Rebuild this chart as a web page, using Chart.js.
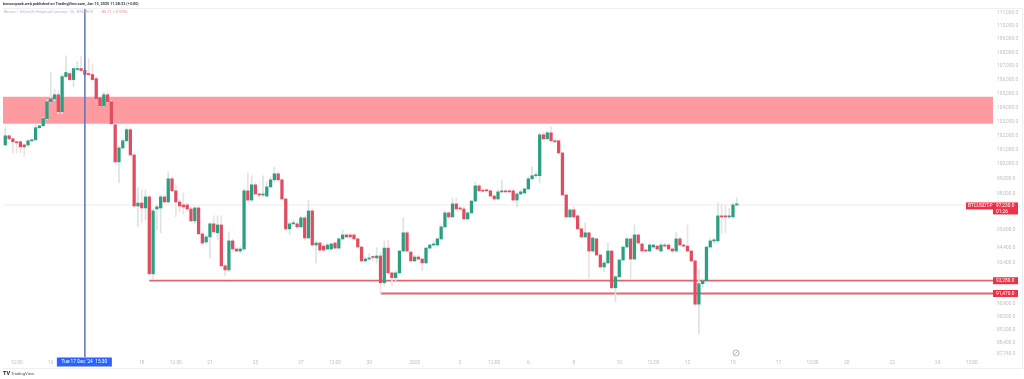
<!DOCTYPE html>
<html>
<head>
<meta charset="utf-8">
<style>
  html, body { margin: 0; padding: 0; background: #fff; }
  canvas { display: block; }
</style>
<script src="https://cdn.jsdelivr.net/npm/chart.js@4"></script>
</head>
<body>
<canvas id="chart" width="1024" height="379"></canvas>
<script>
//Candles, one value per bar
const opens = [101340,101980,101770,101560,101560,101340,101340,101630,101700,102550,102690,103190,104400,104610,104910,103690,106230,106450,106010,106750,106820,106680,106450,106380,106080,104690,104110,104910,104400,102760,100160,101130,101630,102410,100640,97160,97360,97030,97770,92720,96960,97030,97770,97430,99000,98180,97430,97230,97230,96960,96170,97030,95310,94780,95110,95970,95380,95900,93230,92970,94850,94320,94190,94320,98180,97560,98590,97970,97900,97830,98450,98930,99340,98930,97630,95640,95970,95970,95770,96370,95040,96830,94580,94710,94510,94320,94320,94710,94380,94980,95240,95240,95240,94980,94450,93550,93670,93800,93740,93870,92150,94380,92780,92470,92780,94190,95380,94120,93550,93800,93670,93420,94380,94580,94580,94980,95770,96700,96430,97300,97030,96960,96300,96700,97490,98520,98180,98250,98180,97830,97630,98110,98180,98180,98180,97560,97970,98040,98310,99000,99210,99210,102050,101770,102190,101630,101630,100780,97900,96430,96900,96500,95640,95110,95380,94190,94980,93930,93160,93420,94190,91830,92530,93610,94450,94980,93670,95240,94650,94250,94190,94450,94510,94190,94580,94580,94320,94190,94980,94580,94510,94190,93550,90800,92090,92280,94450,94850,94850,96500,96500,96430,96430,97230];
const highs = [102550,102050,101840,101630,101630,101410,101700,101770,102830,102690,103250,104540,106530,105280,105200,106400,107770,106600,106900,107340,107700,107480,107550,107120,106230,104760,105100,105050,104470,102830,101270,101770,102550,102550,100780,98380,98250,98250,97900,96960,97230,97900,97900,99480,99140,98590,97560,98040,97360,97100,97100,97160,95440,95250,96040,96500,96500,96500,93350,95440,94980,94380,94450,98310,99410,99210,98720,98040,99210,98800,99140,99820,99480,99000,97700,96100,96240,96100,96500,96500,97560,96960,94850,94780,94650,94710,94710,94780,95100,95570,95310,95310,95310,95040,94510,93800,94000,93900,94400,94120,94850,94910,92850,92910,94250,96370,95500,94190,93930,93930,93740,94450,94650,94850,95040,95900,96830,96770,97700,97700,97100,97100,96770,97560,98790,98590,98250,98320,98250,97900,98250,98930,98300,98300,98320,98040,98250,98380,99140,99820,99500,102190,102260,102330,102620,101770,101700,100850,97970,96970,97100,96570,95700,96040,95440,95100,95040,94000,93550,94710,94250,92600,93670,94450,95100,95040,95900,95310,94710,94320,94710,94650,94580,94720,94700,94650,94380,95400,95110,94650,95900,94250,93610,92970,92400,94450,95000,95050,97360,97300,97200,97000,97360,97700];
const lows = [101280,101700,100780,100780,100780,100570,101200,101560,101630,102480,102620,103120,104330,104470,103550,103550,106160,105900,105500,106680,106600,106300,106300,105950,104540,104050,104050,104330,102760,100090,98720,101060,101560,100570,97090,95770,96040,96240,92650,92410,95570,95380,97360,97360,98110,96430,96770,96630,96770,96110,95970,95240,94580,94650,93740,95300,94910,93160,92590,92850,94120,94120,94050,94190,97490,97430,97900,97700,97760,97760,98380,98790,98860,97560,95510,95250,95900,95640,95700,94900,94980,94510,93420,94100,94120,94250,94250,94320,94320,94910,95040,95040,94910,94380,93490,93420,93600,93550,93420,91380,91960,92720,91960,92280,92720,94120,94120,93480,93480,93610,92910,93360,94320,94510,94510,94910,95700,96300,96370,96830,96830,96240,96240,96630,97430,98110,98110,98110,97760,97560,97560,98040,98050,98050,97490,97100,97900,97970,98250,98930,99070,98720,101700,101700,101560,101490,100710,97830,96360,96370,96370,95570,95040,95040,92340,94120,93900,93100,92850,93360,91760,90930,92470,93550,94380,92340,93610,94650,94120,94120,94120,94380,94250,94120,94450,94250,94050,94120,94510,94450,94120,93490,90740,88940,91900,92150,94380,94700,94780,95300,95380,96300,96370,97160];
const closes = [101980,101770,101560,101490,101200,101200,101630,101700,102550,102690,103190,104400,104610,104910,103690,106230,106530,106010,106820,106820,106680,106380,106380,106010,104610,104110,104910,104400,102830,100160,101130,101630,102410,100640,97160,97360,97030,97770,92720,96830,97100,97770,97430,99000,98180,97430,97160,97100,96960,96170,97030,95310,94710,95110,95970,95440,95900,93230,92970,94850,94320,94190,94320,98180,97560,98590,97970,97900,97970,98450,98930,99340,98930,97630,95640,95970,96040,95770,96370,95040,96830,94580,94710,94250,94250,94580,94650,94380,94980,95240,95110,95110,94980,94450,93550,93670,93700,93770,93870,92150,94380,92780,92470,92780,94190,95380,94190,93550,93800,93670,93420,94380,94580,94650,94980,95770,96700,96430,97300,96960,96960,96300,96700,97490,98520,98180,98160,98180,97830,97630,98110,98180,98110,98110,97560,97970,98110,98310,99000,99210,99280,102050,101770,102190,101630,101560,100780,97900,96430,96900,96430,95640,95110,95380,94190,95040,93930,93160,93420,94190,91830,92530,93610,94450,94980,93670,95240,94710,94190,94190,94580,94580,94320,94580,94510,94320,94190,94980,94580,94510,94190,93550,90800,92090,92280,94450,94850,94900,96500,96430,96430,96500,97230,97300];

//Price axis ticks and the levels drawn on the chart
const priceTicks = [111000,110000,109000,108000,107000,106000,105000,104000,103000,102000,101000,100000,99000,98000,95600,94400,93400,90800,90000,89200,88400,87740];
const timeTickBars = [3,12,36,45,54,66,78,87,96,108,120,129,138,150,162,171,180,192,204,213,222,234,246,255];
const timeTickLabels = ['12:00','16','18','12:00','21','25','27','12:00','30','2025','3','12:00','6','8','10','12:00','13','15','17','12:00','20','22','24','12:00'];
const zoneTop = 104760;
const zoneBottom = 102830;
const lastPrice = 97230;
const supportHigh = 92280;
const supportLow = 91470;
const supportHighStart = 38;
const supportLowStart = 99;
const markedBar = 21;

const xMin = -0.6;
const xMax = 260.6;
const yMin = 87550;
const yMax = 111300;

const green = '#2a9f81';
const red = '#e04c60';
const tagRed = '#ee3148';
const lineRed = '#dd6670';

function getColor(i, up, down) {
    return closes[i] >= opens[i] ? up : down;
}

function level(x0, x1, price, color, width) {
    return {
        type: 'line',
        data: [{x: x0, y: price}, {x: x1, y: price}],
        borderColor: color,
        borderWidth: width,
        pointRadius: 0
    };
}

function fmt(v) {
    return v.toLocaleString('en-US', {minimumFractionDigits: 1, maximumFractionDigits: 1});
}

//Price tags, date tag, header and frame
const overlay = {
    id: 'overlay',
    afterDraw(chart) {
        const ctx = chart.ctx;
        const x = chart.scales.x;
        const y = chart.scales.y;
        const font = 'Roboto, sans-serif';
        ctx.save();

        ctx.strokeStyle = '#eeeff2';
        ctx.lineWidth = 1;
        ctx.beginPath();
        ctx.moveTo(3, 8.5);
        ctx.lineTo(1022.5, 8.5);
        ctx.lineTo(1022.5, 368.5);
        ctx.lineTo(3, 368.5);
        ctx.stroke();

        ctx.textBaseline = 'middle';
        ctx.textAlign = 'left';
        ctx.font = 'bold 3.8px ' + font;
        ctx.fillStyle = '#3a3e49';
        ctx.fillText('bensonpack.web published on TradingView.com, Jan 15, 2025 11:28:33 (+3:00)', 3, 4.5);
        ctx.font = '3.8px ' + font;
        ctx.fillStyle = '#b4b8c2';
        ctx.fillText('Bitcoin / TetherUS Perpetual Contract \u00b7 2h \u00b7 BINANCE', 4, 12.5);
        ctx.fillStyle = '#ec8f9a';
        ctx.fillText('\u221286.71 (\u22120.09%)', 100, 12.5);

        ctx.font = 'bold 5.5px ' + font;
        ctx.fillStyle = '#131722';
        ctx.fillText('TV', 3, 374);
        ctx.font = '4.2px ' + font;
        ctx.fillStyle = '#50535e';
        ctx.fillText('TradingView', 11, 374);

        const mx = x.getPixelForValue(markedBar);
        ctx.fillStyle = '#2962ff';
        ctx.fillRect(mx - 28, 357.5, 55, 9);
        ctx.fillStyle = '#fff';
        ctx.textAlign = 'center';
        ctx.font = '4.8px ' + font;
        ctx.fillText("Tue 17 Dec '24  15:30", mx - 0.5, 362);

        ctx.textAlign = 'left';
        const py = y.getPixelForValue(lastPrice);
        ctx.fillStyle = tagRed;
        ctx.fillRect(966, py - 2.5, 27, 7);
        ctx.fillRect(993, py - 2.5, 25, 12);
        ctx.fillStyle = '#fff';
        ctx.fillText('BTCUSDT.P', 968, py + 1);
        ctx.fillText(fmt(lastPrice), 996, py + 1);
        ctx.fillText('01:26', 996, py + 6.5);

        for (const p of [supportHigh, supportLow]) {
            const ly = y.getPixelForValue(p);
            ctx.fillStyle = tagRed;
            ctx.fillRect(993, ly - 3.5, 25, 7);
            ctx.fillStyle = '#fff';
            ctx.fillText(fmt(p), 996, ly + 0.3);
        }

        ctx.strokeStyle = '#9ea2ad';
        ctx.lineWidth = 0.8;
        ctx.beginPath();
        ctx.arc(736, 353, 3, 0, Math.PI * 2);
        ctx.moveTo(734.5, 354.5);
        ctx.lineTo(737.5, 351.5);
        ctx.stroke();
        ctx.restore();
    }
};

new Chart(document.querySelector('#chart'), {
    type: 'bar',
    data: {
        datasets: [
            {
                //Bodies
                data: opens.map((o, i) => ({x: i, y: [o, closes[i]]})),
                backgroundColor: opens.map((o, i) => getColor(i, green, red)),
                barThickness: 2.6,
                minBarLength: 1,
                grouped: false,
                order: 1
            },
            {
                //Wicks
                data: opens.map((o, i) => ({x: i, y: [lows[i], highs[i]]})),
                backgroundColor: opens.map((o, i) => getColor(i, '#d8e5e1', '#efe0e3')),
                barThickness: 1,
                grouped: false,
                order: 2
            },
            {...level(markedBar, markedBar, yMin, '#5a74b8', 1.5), data: [{x: markedBar, y: yMin}, {x: markedBar, y: yMax}], order: 0},
            {...level(supportHighStart, xMax, supportHigh, lineRed, 1.8), order: 3},
            {...level(supportLowStart, xMax, supportLow, lineRed, 1.8), order: 3.5},
            {...level(xMin, xMax, lastPrice, '#f0e9ea', 1), order: 4},
            {
                ...level(xMin, xMax, zoneTop, '#fe9ba1', 0),
                fill: {value: zoneBottom},
                backgroundColor: '#fe9ba1',
                order: 5
            }
        ]
    },
    options: {
        responsive: false,
        animation: false,
        layout: {padding: {left: 3, top: 9}},
        plugins: {
            legend: {display: false},
            tooltip: {enabled: false}
        },
        scales: {
            x: {
                type: 'linear',
                min: xMin,
                max: xMax,
                offset: false,
                grid: {display: false, offset: false, drawTicks: false},
                border: {display: false},
                afterFit: scale => { scale.height = 22; },
                afterBuildTicks: scale => { scale.ticks = timeTickBars.map(v => ({value: v})); },
                ticks: {
                    autoSkip: false,
                    maxRotation: 0,
                    padding: 3,
                    color: '#bcc0c8',
                    font: {family: 'Roboto', size: 4.8},
                    callback: v => timeTickLabels[timeTickBars.indexOf(v)]
                }
            },
            y: {
                type: 'logarithmic',
                position: 'right',
                min: yMin,
                max: yMax,
                grid: {display: false, drawTicks: false},
                border: {display: false},
                afterFit: scale => { scale.width = 31; },
                afterBuildTicks: scale => { scale.ticks = priceTicks.map(v => ({value: v})); },
                ticks: {
                    autoSkip: false,
                    padding: 4,
                    color: '#bcc0c8',
                    font: {family: 'Roboto', size: 4.8},
                    callback: v => fmt(v)
                }
            }
        }
    },
    plugins: [overlay]
});
</script>
</body>
</html>
